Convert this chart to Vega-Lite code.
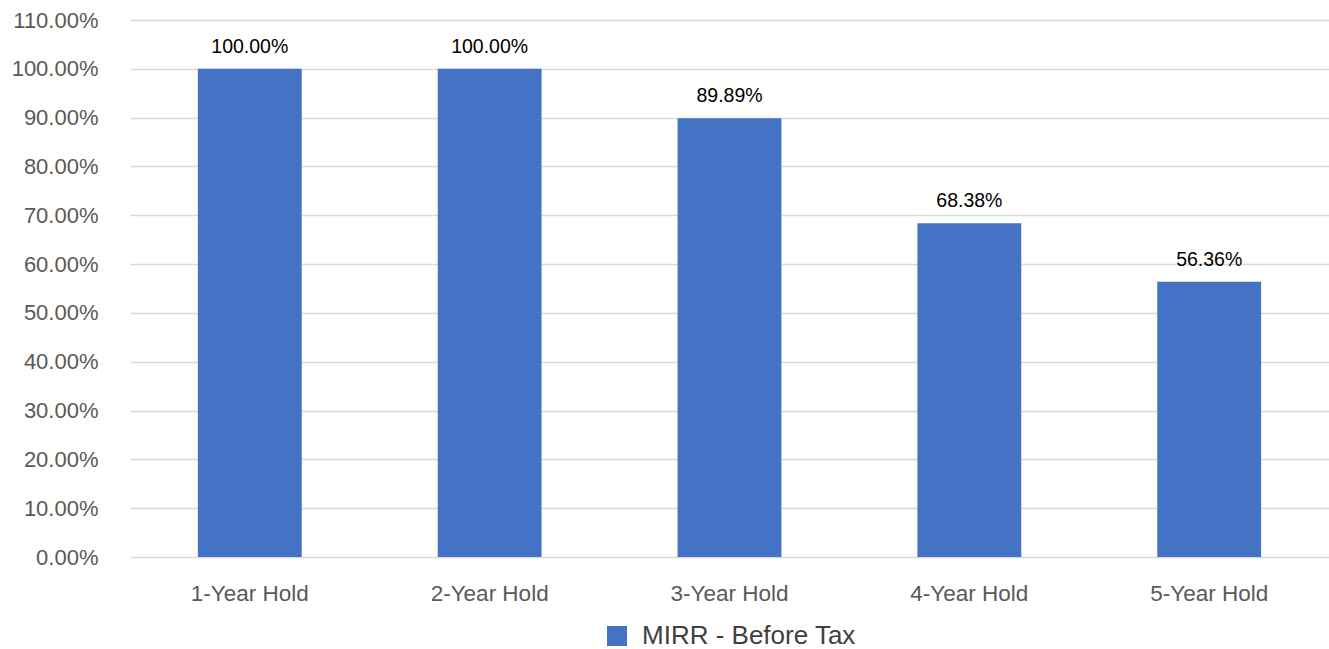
{
  "$schema": "https://vega.github.io/schema/vega-lite/v6.json",
  "width": 1199,
  "height": 537,
  "autosize": {"type": "none"},
  "padding": {"left": 130, "top": 20, "right": 0, "bottom": 92},
  "background": "white",
  "config": {
    "view": {"stroke": null},
    "font": "Liberation Sans"
  },
  "data": {
    "values": [
      {"hold": "1-Year Hold", "value": 1.0, "series": "MIRR - Before Tax"},
      {"hold": "2-Year Hold", "value": 1.0, "series": "MIRR - Before Tax"},
      {"hold": "3-Year Hold", "value": 0.8989, "series": "MIRR - Before Tax"},
      {"hold": "4-Year Hold", "value": 0.6838, "series": "MIRR - Before Tax"},
      {"hold": "5-Year Hold", "value": 0.5636, "series": "MIRR - Before Tax"}
    ]
  },
  "encoding": {
    "x": {
      "field": "hold",
      "type": "nominal",
      "sort": null,
      "scale": {"paddingInner": 0.567, "paddingOuter": 0.283},
      "axis": {
        "title": null,
        "labelAngle": 0,
        "labelFontSize": 22.5,
        "labelColor": "#595959",
        "labelPadding": 25,
        "ticks": false,
        "domain": false
      }
    },
    "y": {
      "field": "value",
      "type": "quantitative",
      "scale": {"domain": [0, 1.1], "nice": false},
      "axis": {
        "title": null,
        "format": ".2%",
        "values": [0, 0.1, 0.2, 0.3, 0.4, 0.5, 0.6, 0.7, 0.8, 0.9, 1.0, 1.1],
        "labelFontSize": 22,
        "labelColor": "#595959",
        "labelPadding": 32,
        "ticks": false,
        "domain": false,
        "grid": true,
        "gridColor": "#d9d9d9",
        "gridWidth": 1.5
      }
    }
  },
  "layer": [
    {
      "mark": {"type": "bar", "color": "#4472c4"},
      "encoding": {
        "color": {
          "field": "series",
          "type": "nominal",
          "scale": {"range": ["#4472c4"]},
          "legend": {
            "title": null,
            "orient": "none",
            "legendX": 474,
            "legendY": 603,
            "symbolType": "square",
            "symbolSize": 400,
            "symbolStrokeWidth": 0,
            "symbolOpacity": 1,
            "labelFontSize": 26,
            "labelColor": "#404040",
            "labelOffset": 12,
            "labelLimit": 0,
            "padding": 0
          }
        }
      }
    },
    {
      "mark": {"type": "text", "baseline": "bottom", "dy": -12, "fontSize": 19.5, "color": "#000000"},
      "encoding": {
        "text": {"field": "value", "type": "quantitative", "format": ".2%"}
      }
    }
  ]
}
